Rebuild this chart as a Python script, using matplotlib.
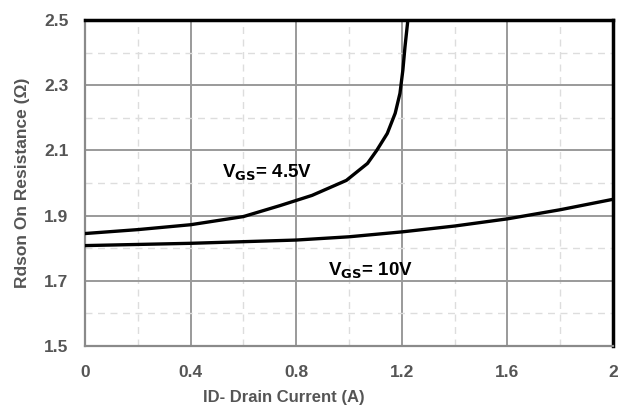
import matplotlib
matplotlib.use("Agg")
import matplotlib.pyplot as plt
from matplotlib.ticker import MultipleLocator

# Rds(on) vs drain current
id_45 = [0.0, 0.2, 0.4, 0.6, 0.74, 0.86, 0.99, 1.07, 1.105, 1.145, 1.175, 1.193, 1.204, 1.212, 1.223]
rds_45 = [1.845, 1.857, 1.872, 1.897, 1.931, 1.962, 2.008, 2.06, 2.10, 2.152, 2.214, 2.275, 2.346, 2.417, 2.5]

id_10 = [0.0, 0.4, 0.8, 1.0, 1.2, 1.4, 1.6, 1.8, 2.0]
rds_10 = [1.808, 1.815, 1.825, 1.835, 1.85, 1.868, 1.89, 1.918, 1.95]

x_ticks = [0, 0.4, 0.8, 1.2, 1.6, 2.0]
x_labels = ["0", "0.4", "0.8", "1.2", "1.6", "2"]
y_ticks = [1.5, 1.7, 1.9, 2.1, 2.3, 2.5]
y_labels = ["1.5", "1.7", "1.9", "2.1", "2.3", "2.5"]

plt.rcParams["font.family"] = ["Liberation Sans", "DejaVu Sans"]

TXT = "#555555"

fig = plt.figure(figsize=(6.34, 4.09), dpi=100)
ax = fig.add_axes([85 / 634, 1 - 346 / 409, 528 / 634, 326 / 409])

for xs, ys in ((id_45, rds_45), (id_10, rds_10)):
    ax.plot(xs, ys, color="black", lw=2.4, solid_joinstyle="round", zorder=3)

ax.set_xlim(0, 2.0)
ax.set_ylim(1.5, 2.5)
ax.set_xticks(x_ticks)
ax.set_xticklabels(x_labels)
ax.set_yticks(y_ticks)
ax.set_yticklabels(y_labels)
ax.xaxis.set_minor_locator(MultipleLocator(0.2))
ax.yaxis.set_minor_locator(MultipleLocator(0.1))

ax.grid(which="major", color="#9a9a9a", lw=1.4, ls="-", zorder=1)
ax.grid(which="minor", color="#dddddd", lw=1.0, ls=(0, (5, 4)), zorder=1)
ax.set_axisbelow(True)

ax.tick_params(which="both", length=0)
ax.tick_params(axis="x", pad=14, labelsize=12.5, labelcolor=TXT)
ax.tick_params(axis="y", pad=12, labelsize=12.5, labelcolor=TXT)
for lbl in ax.get_xticklabels() + ax.get_yticklabels():
    lbl.set_fontweight("bold")

for side in ("top", "right"):
    ax.spines[side].set_color("black")
    ax.spines[side].set_linewidth(2.5)
for side in ("left", "bottom"):
    ax.spines[side].set_color("#8a8a8a")
    ax.spines[side].set_linewidth(1.6)

ax.set_xlabel("ID- Drain Current (A)", fontsize=12, fontweight="bold", color=TXT)
ax.xaxis.set_label_coords((284 - 85) / 528, -0.135)
ax.set_ylabel("Rdson On Resistance (Ω)", fontsize=12.5, fontweight="bold", color=TXT, labelpad=10)

ax.text(0.52, 2.03, r"V$_{\mathbf{GS}}$= 4.5V", fontsize=13.5, fontweight="bold", color="black",
        va="center", ha="left")
ax.text(0.92, 1.73, r"V$_{\mathbf{GS}}$= 10V", fontsize=13.5, fontweight="bold", color="black",
        va="center", ha="left")

fig.savefig("out.png", dpi=100)
